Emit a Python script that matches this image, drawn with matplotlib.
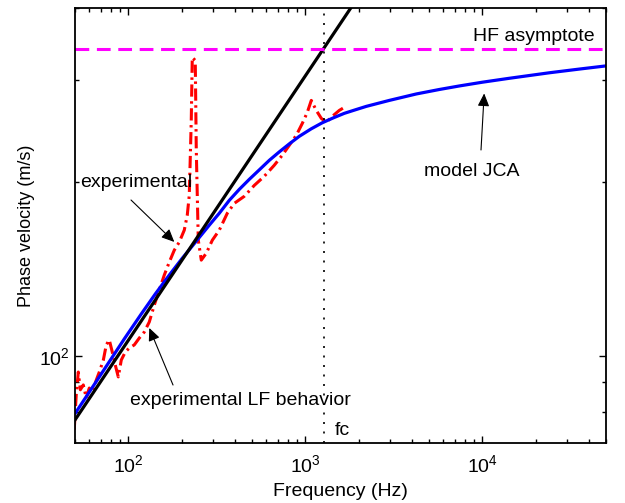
"""Phase velocity vs frequency: experiment, JCA model and the two asymptotes."""

import matplotlib

matplotlib.use("Agg")
import matplotlib.pyplot as plt
from matplotlib.ticker import LogLocator, NullFormatter

plt.rcParams["font.family"] = ["Liberation Sans", "DejaVu Sans"]
plt.rcParams["mathtext.fontset"] = "custom"
plt.rcParams["mathtext.rm"] = "Liberation Sans"
plt.rcParams["font.size"] = 14

# experimental phase velocity
exp_freq = [49.5, 50.8, 52.2, 53.6, 55.7, 57.9, 60.2, 62.6, 66.0, 68.6, 72.3, 75.1,
            78.1, 81.2, 84.4, 87.8, 91.3, 96.2, 101.3, 108.1, 115.4, 123.1, 131.4,
            140.3, 149.6, 159.7, 170.4, 181.9, 194.1, 207.2, 215.4, 221.1, 226.9,
            229.9, 239.0, 242.2, 248.6, 258.5, 275.9, 298.4, 326.8, 362.6, 397.2,
            452.2, 515.1, 586.6, 668.1, 741.6, 812.3, 889.8, 962.0, 1026.4, 1081.3,
            1153.7, 1231.5, 1314.4, 1421.3, 1556.6, 1660.7]
exp_vel = [74.5, 85.6, 93.8, 87.4, 89.1, 84.6, 88.0, 86.7, 90.9, 93.8, 98.4, 104.5,
           106.6, 101.6, 96.5, 92.0, 98.4, 101.6, 103.2, 104.5, 107.4, 110.0, 114.5,
           122.5, 130.0, 138.0, 145.3, 152.4, 157.4, 165.1, 175.2, 189.7, 255.7,
           328.5, 324.6, 226.9, 158.6, 146.5, 150.6, 158.6, 165.1, 176.6, 183.7,
           188.9, 197.3, 204.6, 213.8, 222.5, 231.5, 240.9, 252.6, 263.9, 276.8,
           266.0, 257.7, 253.6, 259.8, 266.0, 269.2]

# JCA model
jca_freq = [49.5, 68.6, 94.9, 118.4, 142.1, 170.4, 201.9, 242.2, 286.9, 326.8,
            372.1, 423.8, 482.6, 549.8, 626.0, 713.2, 812.3, 925.0, 1081, 1247,
            1440, 1661, 1916, 2211, 2983, 4238, 5717, 7416, 10000, 14210, 23900,
            35320, 50000]
jca_vel = [79.1, 92.0, 107.0, 118.2, 128.0, 138.0, 147.6, 158.0, 168.4, 176.6,
           185.9, 194.2, 202.1, 209.9, 218.0, 225.5, 232.8, 239.9, 247.2, 253.2,
           258.2, 262.9, 266.6, 270.3, 276.8, 284.0, 289.1, 293.2, 297.6, 302.3,
           309.0, 313.6, 317.6]

# low frequency behaviour (straight line in log-log)
lf_freq = [50, 2000]
lf_vel = [77.5, 419]

c_inf = 340   # HF asymptote, m/s
fc = 1280     # crossover frequency, Hz

fig = plt.figure(figsize=(6.25, 5.03), dpi=100)
ax = fig.add_axes([0.12, 0.1193, 0.8496, 0.8648])

ax.plot(exp_freq, exp_vel, color="red", lw=2.2, dashes=(4, 1.5, 0.8, 1.5))
ax.plot(jca_freq, jca_vel, color="blue", lw=2.3)
ax.plot(lf_freq, lf_vel, color="black", lw=2.3)
ax.axhline(c_inf, color="magenta", lw=2.2, dashes=(4.5, 2.5))
ax.axvline(fc, color="black", lw=1.2, dashes=(1.2, 4.5))

ax.set_xscale("log")
ax.set_yscale("log")
ax.set_xlim(50, 5e4)
ax.set_ylim(70.7, 400)
ax.yaxis.set_minor_locator(LogLocator(subs=range(2, 10)))
ax.yaxis.set_minor_formatter(NullFormatter())
ax.xaxis.set_minor_formatter(NullFormatter())
ax.tick_params(which="both", direction="in", top=True, right=True, width=1)
ax.tick_params(which="major", length=5)
ax.tick_params(which="minor", length=3)
ax.tick_params(axis="x", pad=8)
ax.tick_params(axis="y", pad=4)
for s in ax.spines.values():
    s.set_linewidth(1.3)

ax.set_xlabel("Frequency (Hz)", labelpad=5)
ax.set_ylabel("Phase velocity (m/s)", labelpad=3, fontsize=13)

arrow = dict(arrowstyle="-|>,head_length=0.55,head_width=0.25", color="black",
             lw=0.8, shrinkA=0, shrinkB=0, mutation_scale=14)

ax.text(0.979, 0.9356, "HF asymptote", transform=ax.transAxes, ha="right", va="center")
ax.text(0.7476, 0.623, "model JCA", transform=ax.transAxes, ha="center", va="center")
ax.annotate("", xy=(10250, 284.6), xytext=(0.7646, 0.6736),
            textcoords="axes fraction", arrowprops=arrow)
ax.text(0.0094, 0.5977, "experimental", transform=ax.transAxes, ha="left", va="center")
ax.annotate("", xy=(182, 157.5), xytext=(0.1055, 0.5586),
            textcoords="axes fraction", arrowprops=arrow)
ax.text(0.1036, 0.0966, "experimental LF behavior", transform=ax.transAxes,
        ha="left", va="center")
ax.annotate("", xy=(131.4, 111.8), xytext=(0.1846, 0.1333),
            textcoords="axes fraction", arrowprops=arrow)
ax.text(0.4896, 0.0276, "fc", transform=ax.transAxes, ha="left", va="center")

fig.savefig("out.png", dpi=100)
